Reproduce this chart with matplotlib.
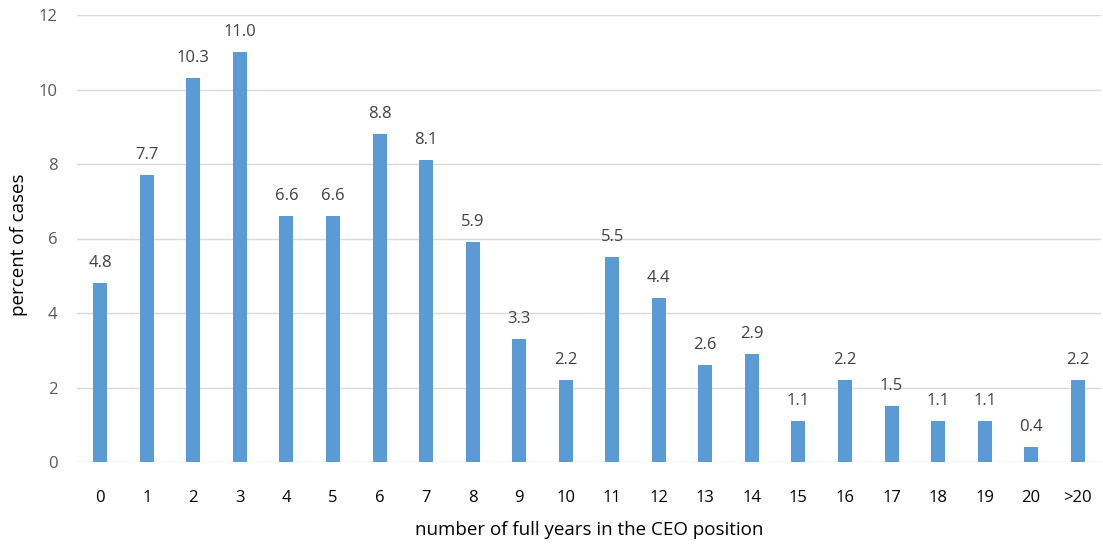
import matplotlib
matplotlib.use("Agg")
import matplotlib.pyplot as plt

categories = [str(i) for i in range(21)] + [">20"]
percent = [4.8, 7.7, 10.3, 11.0, 6.6, 6.6, 8.8, 8.1, 5.9, 3.3, 2.2,
           5.5, 4.4, 2.6, 2.9, 1.1, 2.2, 1.5, 1.1, 1.1, 0.4, 2.2]
y_ticks = [0, 2, 4, 6, 8, 10, 12]

plt.rcParams['font.family'] = ['Open Sans', 'DejaVu Sans']

fig = plt.figure(figsize=(11.03, 5.45), dpi=100)
ax = fig.add_axes([77 / 1103, 1 - 462 / 545, 1024 / 1103, (462 - 15) / 545])

x = list(range(len(categories)))
ax.bar(x, percent, width=0.3, color="#5B9BD5", zorder=3)

for xi, v in zip(x, percent):
    ax.text(xi, v + 0.33, f"{v:.1f}", ha="center", va="bottom",
            fontsize=12, color="#404040")

ax.set_xlim(-0.5, len(categories) - 0.5)
ax.set_ylim(0, 12)
ax.set_yticks(y_ticks)
ax.set_xticks(x)
ax.set_xticklabels(categories)
ax.grid(axis="y", color="#D9D9D9", linewidth=1, zorder=0)
for s in ax.spines.values():
    s.set_visible(False)
ax.tick_params(axis="both", length=0)
ax.tick_params(axis="x", pad=20, labelsize=12, labelcolor="#000000")
ax.tick_params(axis="y", pad=14, labelsize=12, labelcolor="#595959")

ax.set_xlabel("number of full years in the CEO position", fontsize=13.5,
              color="#000000", va="center")
ax.set_ylabel("percent of cases", fontsize=13.5, color="#000000", va="center")
ax.xaxis.set_label_coords(0.5, -0.152)
ax.yaxis.set_label_coords(-0.0566, 0.485)

fig.savefig("out.png", dpi=100)
